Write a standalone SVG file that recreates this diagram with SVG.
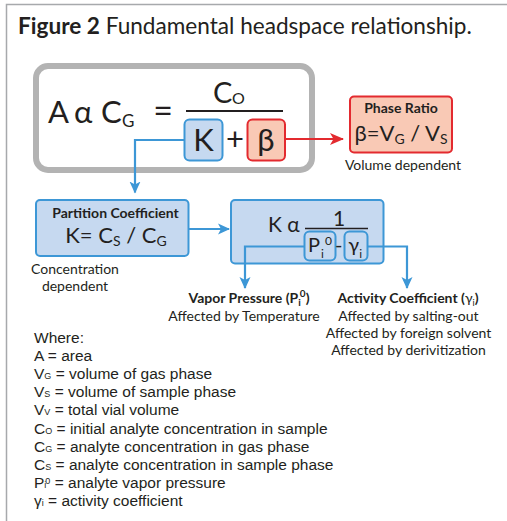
<svg xmlns="http://www.w3.org/2000/svg" width="507" height="521" viewBox="0 0 507 521">
<defs>
<style>
.t{font-family:Lato,"Liberation Sans",sans-serif;fill:#231f20}
.b{font-weight:bold}
.m{text-anchor:middle}
.bl{fill:#c6d9f0;stroke:#3d97d6;stroke-width:2}
.rd{fill:#f9c9b5;stroke:#e32a2f;stroke-width:2}
.cb{fill:none;stroke:#3d97d6;stroke-width:2.2}
.cr{fill:none;stroke:#e32a2f;stroke-width:2}
.lst{font-family:"Liberation Sans",Arial,sans-serif;font-size:15.5px;fill:#231f20}
.sb{font-size:9px}
</style>
<marker id="ab" viewBox="0 0 12 12" refX="11" refY="6" markerWidth="12" markerHeight="12" markerUnits="userSpaceOnUse" orient="auto"><path d="M0,0.5 L12,6 L0,11.5 L3,6 Z" fill="#3d97d6"/></marker>
<marker id="ar" viewBox="0 0 14 14" refX="13" refY="7" markerWidth="14" markerHeight="14" markerUnits="userSpaceOnUse" orient="auto"><path d="M0,1 L14,7 L0,13 L3.5,7 Z" fill="#e32a2f"/></marker>
</defs>
<rect width="507" height="521" fill="#fff"/>
<path d="M6.5,521 V4.5 H507" fill="none" stroke="#a7a9ac" stroke-width="1.5"/>
<text class="t" x="18" y="34" font-size="22.6"><tspan class="b">Figure 2</tspan> Fundamental headspace relationship.</text>

<g id="main-equation">
<rect x="36" y="66" width="276" height="104" rx="12" fill="#fff" stroke="#b3b3b3" stroke-width="6"/>
<text class="t" x="48" y="123" font-size="31">A</text>
<text class="t" x="74" y="123" font-size="31">α</text>
<text class="t" x="101" y="123" font-size="31">C</text>
<text class="t" x="122" y="127" font-size="17">G</text>
<text class="t m" x="163" y="123" font-size="34">=</text>
<line x1="186" y1="111" x2="283" y2="111" stroke="#231f20" stroke-width="2"/>
<text class="t" x="213" y="103" font-size="29">C</text>
<text class="t" x="232" y="104" font-size="16">O</text>
<text class="t m" x="235" y="150" font-size="31">+</text>
</g>
<g id="node-K">
<rect class="bl" x="184.5" y="119.5" width="38" height="41" rx="5"/>
<text class="t m" x="203.5" y="151" font-size="31">K</text>
</g>
<g id="node-beta">
<rect class="rd" x="247.5" y="119.5" width="37.5" height="41" rx="5"/>
<text class="t m" x="266" y="151" font-size="31">β</text>
</g>

<g id="phase-ratio">
<rect class="rd" x="350" y="96.5" width="102" height="56" rx="4"/>
<text class="t b m" x="401" y="113" font-size="14">Phase Ratio</text>
<text class="t m" x="401" y="141" font-size="22">β=V<tspan font-size="14" dy="3">G</tspan><tspan dy="-3"> / V</tspan><tspan font-size="14" dy="3">S</tspan></text>
<text class="t m" x="403" y="170" font-size="14">Volume dependent</text>
</g>

<g id="partition-coefficient">
<rect class="bl" x="36" y="200" width="152.5" height="56" rx="4"/>
<text class="t b m" x="115.5" y="218" font-size="14">Partition Coefficient</text>
<text class="t m" x="116" y="243" font-size="22">K= C<tspan font-size="14" dy="3">S</tspan><tspan dy="-3"> / C</tspan><tspan font-size="14" dy="3">G</tspan></text>
<text class="t m" x="75" y="274" font-size="14">Concentration</text>
<text class="t m" x="75" y="290.5" font-size="14">dependent</text>
</g>

<g id="k-proportional">
<rect class="bl" x="231" y="200" width="152.5" height="63.5" rx="4"/>
<text class="t" x="268" y="232" font-size="21">K α</text>
<text class="t m" x="339" y="226" font-size="21">1</text>
<line x1="305" y1="228.5" x2="368" y2="228.5" stroke="#231f20" stroke-width="1.5"/>
<rect class="bl" x="304.5" y="231.5" width="31" height="29" rx="5" stroke-width="1.5"/>
<rect class="bl" x="344.5" y="231.5" width="23" height="29" rx="5" stroke-width="1.5"/>
<text class="t" x="308" y="252" font-size="20">P<tspan font-size="12" dx="1" dy="6">i</tspan><tspan font-size="12" dx="1" dy="-13">0</tspan><tspan dx="3" dy="7">-</tspan><tspan dx="6">γ</tspan><tspan font-size="12" dy="6">i</tspan></text>
</g>

<g id="vapor-pressure">
<text class="t b m" x="249" y="303" font-size="14">Vapor Pressure (P<tspan font-size="10" dy="3">i</tspan><tspan font-size="10" dx="-1" dy="-9">0</tspan><tspan dy="6">)</tspan></text>
<text class="t m" x="244" y="321" font-size="14">Affected by Temperature</text>
</g>

<g id="activity-coefficient">
<text class="t b m" x="408" y="303" font-size="14">Activity Coefficient (<tspan font-weight="normal">γ</tspan><tspan font-size="9" font-weight="normal" dy="3">i</tspan><tspan dy="-3">)</tspan></text>
<text class="t m" x="408.5" y="321" font-size="14">Affected by salting-out</text>
<text class="t m" x="408.5" y="338" font-size="14">Affected by foreign solvent</text>
<text class="t m" x="408.5" y="354.5" font-size="14">Affected by derivitization</text>
</g>

<g id="connectors">
<path class="cb" d="M184,140 H135 V192.5" marker-end="url(#ab)"/>
<path class="cr" d="M285,139 H343" marker-end="url(#ar)"/>
<path class="cb" d="M188.5,229 H229" marker-end="url(#ab)"/>
<path class="cb" d="M304.5,246.5 H245 V288" marker-end="url(#ab)"/>
<path class="cb" d="M367.5,246.5 H407 V288" marker-end="url(#ab)"/>
</g>

<g id="legend" class="lst">
<text x="34" y="343">Where:</text>
<text x="34" y="361">A = area</text>
<text x="34" y="379">V<tspan class="sb">G</tspan> = volume of gas phase</text>
<text x="34" y="397">V<tspan class="sb">S</tspan> = volume of sample phase</text>
<text x="34" y="415">V<tspan class="sb">V</tspan> = total vial volume</text>
<text x="34" y="433.5">C<tspan class="sb">O</tspan> = initial analyte concentration in sample</text>
<text x="34" y="451.5">C<tspan class="sb">G</tspan> = analyte concentration in gas phase</text>
<text x="34" y="470">C<tspan class="sb">S</tspan> = analyte concentration in sample phase</text>
<text x="34" y="488">P<tspan class="sb">i</tspan><tspan class="sb" dx="-1" dy="-4">0</tspan><tspan dy="4"> = analyte vapor pressure</tspan></text>
<text x="34" y="506">γ<tspan class="sb">i</tspan> = activity coefficient</text>
</g>
</svg>
